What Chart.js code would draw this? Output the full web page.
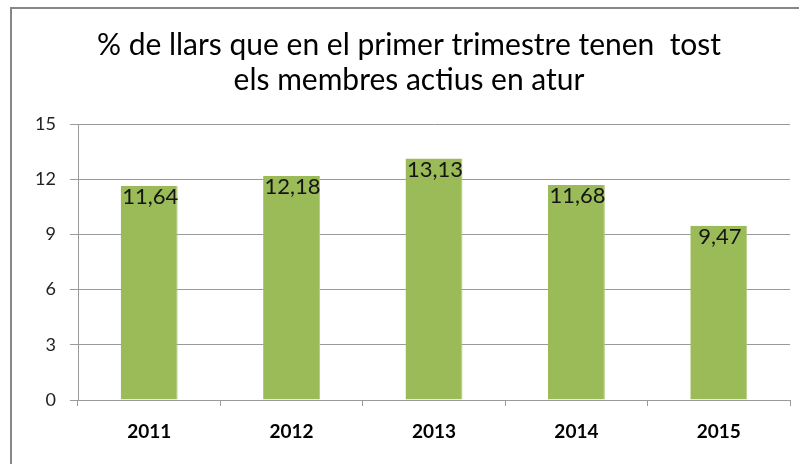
<!DOCTYPE html>
<html lang="ca">
<head>
<meta charset="utf-8">
<script src="https://cdn.jsdelivr.net/npm/chart.js@4"></script>
<style>
  html, body { margin: 0; padding: 0; background: #fff; overflow: hidden; }
  #contenidor { width: 799px; height: 464px; }
</style>
</head>
<body>
<div id="contenidor"><canvas id="grafico-atur"></canvas></div>
<script>
const anys = ["2011", "2012", "2013", "2014", "2015"];
const percentatges = [11.64, 12.18, 13.13, 11.68, 9.47];
const ticksEixY = [0, 3, 6, 9, 12, 15];
const titol = [
  "% de llars que en el primer trimestre tenen  tost",
  "els membres actius en atur",
];

const formatearValor = (valor) =>
  Number(valor).toLocaleString("ca-ES", {
    minimumFractionDigits: 2,
    maximumFractionDigits: 2,
  });

// marc gris del gràfic (només es veuen la vora de dalt i l'esquerra)
const pluginMarc = {
  id: "marc",
  beforeDraw: (chart) => {
    const { ctx } = chart;
    ctx.save();
    ctx.fillStyle = "#ffffff";
    ctx.fillRect(0, 0, chart.width, chart.height);
    ctx.strokeStyle = "#878787";
    ctx.lineWidth = 2;
    ctx.beginPath();
    ctx.moveTo(11, chart.height + 5);
    ctx.lineTo(11, 8);
    ctx.lineTo(chart.width + 5, 8);
    ctx.stroke();
    ctx.restore();
  },
};

// títol a mà, per centrar-lo com a l'original
const pluginTitol = {
  id: "titol",
  afterDraw: (chart) => {
    const { ctx } = chart;
    ctx.save();
    ctx.font = "30px Lato";
    ctx.fillStyle = "#000000";
    ctx.textAlign = "center";
    ctx.textBaseline = "middle";
    titol.forEach((linia, i) => {
      ctx.fillText(linia, 409, 45 + i * 35);
    });
    // tapa la franja de la dreta, fora del marc
    ctx.fillStyle = "#ffffff";
    ctx.fillRect(chart.chartArea.right + 1, 9, chart.width, chart.height);
    ctx.restore();
  },
};

// etiquetes de valor dins la barra, a dalt
const pluginEtiquetes = {
  id: "etiquetes",
  afterDatasetsDraw: (chart) => {
    const { ctx } = chart;
    const meta = chart.getDatasetMeta(0);
    ctx.save();
    ctx.font = "22px Lato";
    ctx.fillStyle = "#141414";
    ctx.textAlign = "center";
    ctx.textBaseline = "middle";
    meta.data.forEach((barra, i) => {
      ctx.fillText(formatearValor(percentatges[i]), barra.x + 1, barra.y + 11);
    });
    ctx.restore();
  },
};

const ctx = document.querySelector("#grafico-atur");

new Chart(ctx, {
  type: "bar",
  data: {
    labels: anys,
    datasets: [
      {
        label: "% llars",
        data: percentatges,
        backgroundColor: "#9bbb59",
        borderColor: "#b5cd85",
        borderWidth: { right: 1, left: 0, top: 0, bottom: 0 },
        barPercentage: 0.4,
        categoryPercentage: 1,
      },
    ],
  },
  options: {
    responsive: true,
    maintainAspectRatio: false,
    animation: false,
    layout: { padding: { left: 0, right: 9, top: 124, bottom: 0 } },
    plugins: {
      legend: { display: false },
      tooltip: { enabled: false },
      title: { display: false },
    },
    scales: {
      x: {
        offset: true,
        grid: {
          offset: true,
          drawOnChartArea: false,
          drawTicks: true,
          tickLength: 6,
          color: "#9a9a9a",
        },
        border: { color: "#9a9a9a", width: 1 },
        ticks: {
          color: "#000000",
          padding: 14,
          font: { family: "Lato", size: 19, weight: "bold" },
        },
        afterFit: (escala) => {
          escala.height = 64;
        },
      },
      y: {
        min: 0,
        max: 15,
        afterBuildTicks: (escala) => {
          escala.ticks = ticksEixY.map((valor) => ({ value: valor }));
        },
        grid: {
          color: "#9a9a9a",
          tickLength: 8,
        },
        border: { color: "#9a9a9a", width: 1 },
        ticks: {
          color: "#222222",
          padding: 14,
          font: { family: "Lato", size: 18 },
        },
        afterFit: (escala) => {
          escala.width = 78;
        },
      },
    },
  },
  plugins: [pluginMarc, pluginTitol, pluginEtiquetes],
});
</script>
</body>
</html>
